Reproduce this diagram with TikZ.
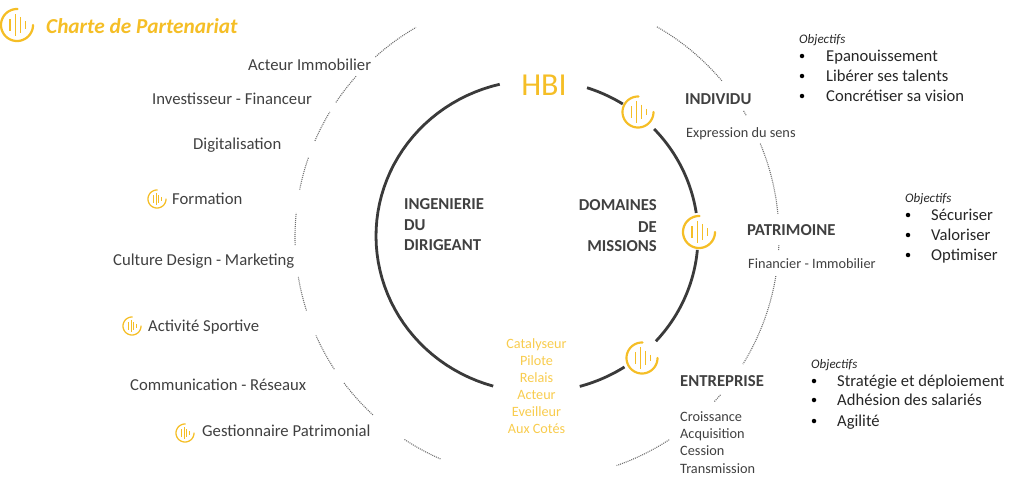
\documentclass[tikz,border=0pt]{standalone}
\usepackage{fontspec}
\setmainfont{Carlito}
\definecolor{gold}{HTML}{F5BE26}
\definecolor{paleGold}{HTML}{F8CC4E}
\definecolor{ink}{HTML}{404040}
\definecolor{ringc}{HTML}{3A3A3A}
\definecolor{dotc}{HTML}{707070}
\newcommand{\outerarc}[2]{\draw[outerring] plot[domain=#1:#2,samples=30] ({537+242*cos(\x)},{237+242*sin(\x)});}
\newcommand{\innerarc}[2]{\draw[innerring] plot[domain=#1:#2,samples=50] ({537+161*cos(\x)},{236+156*sin(\x)});}
\newcommand{\wave}[3]{%
 \draw[gold,line width=#3*0.14pt,line cap=round] plot[domain=-360:-88,samples=50] ({#1+#3*cos(\x)},{#2+#3*sin(\x)});
 \draw[gold,line width=#3*0.09pt]
   ({#1-.43*#3},{#2-.39*#3})--({#1-.43*#3},{#2+.39*#3})
   ({#1-.11*#3},{#2-.69*#3})--({#1-.11*#3},{#2+.69*#3})
   ({#1+.21*#3},{#2-.47*#3})--({#1+.21*#3},{#2+.47*#3})
   ({#1+.54*#3},{#2-.22*#3})--({#1+.54*#3},{#2+.22*#3});}
\tikzset{
 outerring/.style={dotc,line width=1.1pt,dash pattern=on 1pt off 1pt},
 innerring/.style={ringc,line width=2.8pt},
 lab/.style={ink,font=\fontsize{16.7}{18}\selectfont,inner sep=0,anchor=base west},
 headw/.style={ink,font=\fontsize{16.7}{17}\selectfont\bfseries,inner sep=0,anchor=base west},
 heade/.style={ink,font=\fontsize{16.7}{17}\selectfont\bfseries,inner sep=0,anchor=base east},
 sub/.style={ink,font=\fontsize{14.3}{17}\selectfont,inner sep=0,anchor=base west},
 obj/.style={black!85,font=\fontsize{16.6}{18}\selectfont,inner sep=0,anchor=base west},
 objt/.style={black!85,font=\fontsize{13}{14}\selectfont\itshape,inner sep=0,anchor=base west},
 blt/.style={black,circle,fill,inner sep=0,minimum size=4.5pt},
 gtext/.style={paleGold,font=\fontsize{14.2}{17}\selectfont,inner sep=0,anchor=base},
}
\begin{document}
\begin{tikzpicture}[x=1pt,y=-1pt]
\useasboundingbox (0,0) rectangle (1024,501);
% outer dotted ring
\outerarc{-60.3}{-40.2}
\outerarc{-31.4}{-30}
\outerarc{-22.7}{-5.5}
\outerarc{1.9}{3.1}
\outerarc{9.3}{31.7}
\outerarc{40.7}{43}
\outerarc{56.9}{70.8}
\outerarc{113.5}{123.4}
\outerarc{132.7}{143}
\outerarc{146.9}{156}
\outerarc{162.3}{170.5}
\outerarc{178.1}{185.7}
\outerarc{191.3}{199.3}
\outerarc{203.4}{211.1}
\outerarc{213.8}{221.7}
\outerarc{228.1}{240}
% inner ring
\innerarc{105.8}{256.6}
\innerarc{-71.9}{-57.8}
\innerarc{-43.3}{-8.5}
\innerarc{5.1}{42.4}
\innerarc{57.1}{74.6}
% icons
\wave{17}{25}{16}
\wave{638}{112}{15.5}
\wave{699}{232}{16}
\wave{642}{358}{15.5}
\wave{157}{199}{9}
\wave{132}{326}{9}
\wave{185}{433}{9}
% title
\node[gold,font=\fontsize{21.3}{22}\selectfont\bfseries\itshape,inner sep=0,anchor=base west] (title) at (46,33) {Charte de Partenariat};
% left labels
\node[lab] (l1) at (248,70) {Acteur Immobilier};
\node[lab] (l2) at (152,104) {Investisseur - Financeur};
\node[lab] (l3) at (193,149) {Digitalisation};
\node[lab] (l4) at (172,204) {Formation};
\node[lab] (l5) at (113,265) {Culture Design - Marketing};
\node[lab] (l6) at (148,331) {Activité Sportive};
\node[lab] (l7) at (130,390) {Communication - Réseaux};
\node[lab] (l8) at (202,436) {Gestionnaire Patrimonial};
% centre
\node[gold,font=\fontsize{32}{34}\selectfont,inner sep=0,anchor=base] (hbi) at (544,95) {HBI};
\node[headw] (c1) at (404,209) {INGENIERIE};
\node[headw] (c2) at (404,230) {DU};
\node[headw] (c3) at (404,250) {DIRIGEANT};
\node[heade] (d1) at (657,210) {DOMAINES};
\node[heade] (d2) at (657,232) {DE};
\node[heade] (d3) at (657,251) {MISSIONS};
\node[gtext] (g1) at (536.5,348) {Catalyseur};
\node[gtext] (g2) at (536.5,365) {Pilote};
\node[gtext] (g3) at (536.5,382) {Relais};
\node[gtext] (g4) at (536.5,399.5) {Acteur};
\node[gtext] (g5) at (536.5,416) {Eveilleur};
\node[gtext] (g6) at (536.5,433) {Aux Cotés};
% domains
\node[headw] (r1) at (685,104) {INDIVIDU};
\node[sub] (r1s) at (686,137) {Expression du sens};
\node[headw] (r2) at (747,235) {PATRIMOINE};
\node[sub] (r2s) at (748,268) {Financier - Immobilier};
\node[headw] (r3) at (680,386) {ENTREPRISE};
\node[sub] (r3a) at (680,421) {Croissance};
\node[sub] (r3b) at (680,438) {Acquisition};
\node[sub] (r3c) at (680,455) {Cession};
\node[sub] (r3d) at (680,473) {Transmission};
% objectives
\node[objt] (o1) at (799,43) {Objectifs};
\node[blt] (b11) at (802,56) {};
\node[blt] (b12) at (802,76) {};
\node[blt] (b13) at (802,96) {};
\node[obj] (t11) at (826,61) {Epanouissement};
\node[obj] (t12) at (826,81) {Libérer ses talents};
\node[obj] (t13) at (826,101) {Concrétiser sa vision};
\node[objt] (o2) at (905,202) {Objectifs};
\node[blt] (b21) at (908,215) {};
\node[blt] (b22) at (908,235) {};
\node[blt] (b23) at (908,255) {};
\node[obj] (t21) at (931,220) {Sécuriser};
\node[obj] (t22) at (931,240) {Valoriser};
\node[obj] (t23) at (931,260) {Optimiser};
\node[objt] (o3) at (811,368) {Objectifs};
\node[blt] (b31) at (814,381) {};
\node[blt] (b32) at (814,400) {};
\node[blt] (b33) at (814,421) {};
\node[obj] (t31) at (837,386) {Stratégie et déploiement};
\node[obj] (t32) at (837,405) {Adhésion des salariés};
\node[obj] (t33) at (837,426) {Agilité};
\end{tikzpicture}
\end{document}
